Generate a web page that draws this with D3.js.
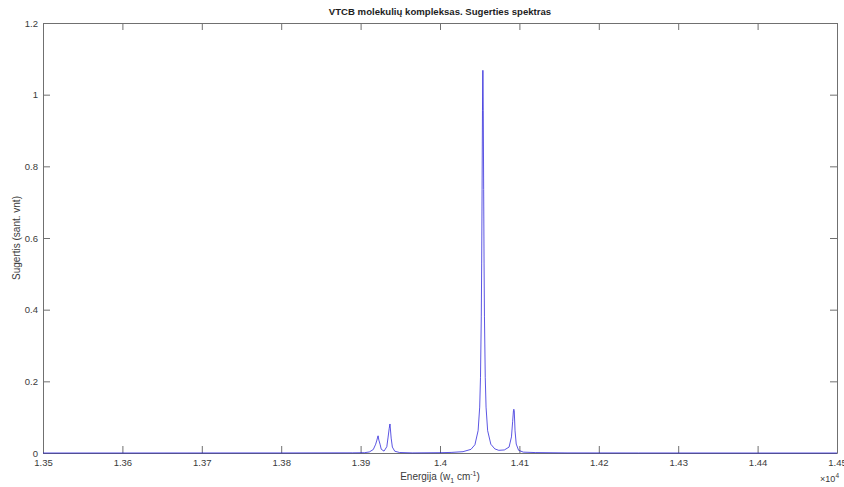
<!DOCTYPE html>
<html>
<head>
<meta charset="utf-8">
<script src="https://cdn.jsdelivr.net/npm/d3@7"></script>
<style>
  html, body { margin: 0; padding: 0; background: #fff; }
  svg { display: block; font-family: "Liberation Sans", Arial, Helvetica, sans-serif; }
</style>
</head>
<body>
<svg id="chart" width="844" height="487"></svg>
<script>
// Absorption spectrum samples: energy (cm^-1) and absorbance (arb. units)
const energy = [
  13500, 13800, 13890, 13905, 13911, 13916, 13919, 13920.5, 13922, 13923, 13924.5, 13926,
  13929.5, 13933, 13934.5, 13936, 13937, 13938.5, 13940, 13943, 13949, 13965, 14000,
  14014, 14029, 14039, 14044, 14048, 14050, 14051, 14052, 14052.5, 14053, 14053.5, 14054,
  14054.5, 14055, 14055.5, 14056, 14057, 14058, 14060, 14064, 14069, 14074,
  14081, 14087, 14090, 14091.5, 14092.5, 14093, 14093.5, 14094.5, 14096, 14099, 14105,
  14120, 14160, 14250, 14400, 14500
];
const absorbance = [
  0, 0.0002, 0.0005, 0.0009, 0.0029, 0.0098, 0.0245, 0.036, 0.048, 0.036, 0.0245, 0.0105,
  0.0052, 0.0175, 0.042, 0.068, 0.081, 0.0415, 0.0165, 0.005, 0.0014, 0.0003, 0.0009,
  0.0016, 0.0037, 0.0102, 0.0231, 0.0625, 0.128, 0.211, 0.38, 0.53, 0.735, 0.955, 1.068,
  0.955, 0.735, 0.53, 0.38, 0.211, 0.128, 0.0625, 0.0245, 0.0115, 0.0075,
  0.0085, 0.0165, 0.045, 0.088, 0.118, 0.122, 0.118, 0.062, 0.025, 0.0075, 0.0024,
  0.0012, 0.0003, 0.0001, 0, 0
];

// Axis ticks
const xTicks = [13500, 13600, 13700, 13800, 13900, 14000, 14100, 14200, 14300, 14400, 14500];
const xTickLabels = ["1.35", "1.36", "1.37", "1.38", "1.39", "1.4", "1.41", "1.42", "1.43", "1.44", "1.45"];
const yTicks = [0, 0.2, 0.4, 0.6, 0.8, 1, 1.2];
const yTickLabels = ["0", "0.2", "0.4", "0.6", "0.8", "1", "1.2"];

const margin = { left: 43, right: 7, top: 23, bottom: 34 };
const W = 844, H = 487;
const svg = d3.select("#chart");

const x = d3.scaleLinear().domain([13500, 14500]).range([margin.left, W - margin.right]);
const y = d3.scaleLinear().domain([0, 1.2]).range([H - margin.bottom, margin.top]);

const axisColor = "#707070";
const textColor = "#3a3a3a";
const tickLen = 7;

// Axes: ticks point inward, mirrored on the opposite side of the box
const tickLabelX = (v, i) => xTickLabels[i];
const tickLabelY = (v, i) => yTickLabels[i];

const xBottom = svg.append("g")
  .attr("transform", `translate(0,${y(0)})`)
  .call(d3.axisBottom(x).tickValues(xTicks).tickFormat(tickLabelX).tickSizeInner(-tickLen).tickSizeOuter(0).tickPadding(6));
const xTop = svg.append("g")
  .attr("transform", `translate(0,${y(1.2)})`)
  .call(d3.axisTop(x).tickValues(xTicks).tickFormat("").tickSizeInner(-tickLen).tickSizeOuter(0));
const yLeft = svg.append("g")
  .attr("transform", `translate(${x(13500)},0)`)
  .call(d3.axisLeft(y).tickValues(yTicks).tickFormat(tickLabelY).tickSizeInner(-tickLen).tickSizeOuter(0).tickPadding(5));
const yRight = svg.append("g")
  .attr("transform", `translate(${x(14500)},0)`)
  .call(d3.axisRight(y).tickValues(yTicks).tickFormat("").tickSizeInner(-tickLen).tickSizeOuter(0));

[xBottom, xTop, yLeft, yRight].forEach(g => {
  g.select(".domain").attr("stroke", axisColor).attr("stroke-width", 1);
  g.selectAll(".tick line").attr("stroke", axisColor).attr("stroke-width", 1);
  g.selectAll(".tick text").attr("fill", textColor).style("font-size", "9.5px");
});

// Spectrum trace, drawn over the box so the zero baseline stays visible
const line = d3.line().x((d, i) => x(energy[i])).y(d => y(d));
svg.append("path")
  .datum(absorbance)
  .attr("d", line)
  .attr("fill", "none")
  .attr("stroke", "#1c14d8")
  .attr("stroke-opacity", 0.8)
  .attr("stroke-width", 0.9)
  .attr("stroke-linejoin", "round");

// Title
svg.append("text")
  .attr("x", (x(13500) + x(14500)) / 2).attr("y", 15)
  .attr("text-anchor", "middle")
  .attr("fill", "#1e1e1e")
  .style("font-size", "9.6px").style("font-weight", "bold")
  .text("VTCB molekulių kompleksas. Sugerties spektras");

// X axis label with subscript and superscript
const xl = svg.append("text")
  .attr("x", (x(13500) + x(14500)) / 2).attr("y", 480)
  .attr("text-anchor", "middle")
  .attr("fill", textColor)
  .style("font-size", "10px");
xl.append("tspan").text("Energija (w");
xl.append("tspan").attr("dy", 3).style("font-size", "7px").text("1");
xl.append("tspan").attr("dy", -3).text(" cm");
xl.append("tspan").attr("dy", -4).style("font-size", "7px").text("-1");
xl.append("tspan").attr("dy", 4).text(")");

// Y axis label
svg.append("text")
  .attr("transform", `translate(20,${(y(0) + y(1.2)) / 2}) rotate(-90)`)
  .attr("text-anchor", "middle")
  .attr("fill", textColor)
  .style("font-size", "10px")
  .text("Sugertis (sant. vnt)");

// Exponent marker for the x axis
const ex = svg.append("text")
  .attr("x", W - margin.right + 2).attr("y", 482)
  .attr("text-anchor", "end")
  .attr("fill", textColor)
  .style("font-size", "9px");
ex.append("tspan").text("\u00d710");
ex.append("tspan").attr("dy", -4).style("font-size", "6.5px").text("4");
</script>
</body>
</html>
